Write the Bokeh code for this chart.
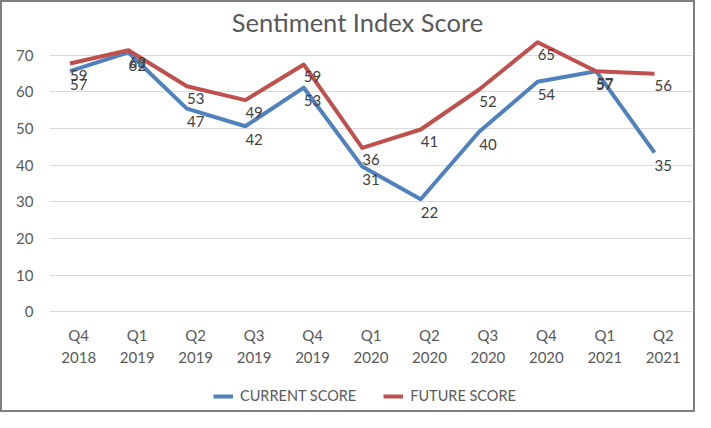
from bokeh.plotting import figure
from bokeh.models import (FactorRange, Range1d, FixedTicker, Legend, LegendItem,
                          ColumnDataSource, Label)
from bokeh.transform import dodge
from bokeh.core.properties import value
from bokeh.embed import file_html
from bokeh.resources import INLINE

title_text = "Sentiment Index Score"
quarters = ["Q4\n2018", "Q1\n2019", "Q2\n2019", "Q3\n2019", "Q4\n2019", "Q1\n2020",
            "Q2\n2020", "Q3\n2020", "Q4\n2020", "Q1\n2021", "Q2\n2021"]
# line positions as drawn in the picture
current_score = [65.6, 70.7, 55.4, 50.6, 61.1, 39.6, 30.7, 49.1, 62.7, 65.6, 43.4]
future_score = [67.7, 71.3, 61.5, 57.7, 67.4, 44.7, 49.7, 60.6, 73.5, 65.6, 64.9]
# data labels as printed in the picture
current_labels = [57, 62, 47, 42, 53, 31, 22, 40, 54, 57, 35]
future_labels = [59, 63, 53, 49, 59, 36, 41, 52, 65, 57, 56]
y_ticks = [0, 10, 20, 30, 40, 50, 60, 70]

FONT = "Lato"
TXT = "#595959"

src = ColumnDataSource(dict(
    q=quarters, cur=current_score, fut=future_score,
    zero=[0] * len(quarters),
    cur_lab=[str(v) for v in current_labels],
    fut_lab=[str(v) for v in future_labels],
))

p = figure(width=695, height=412,
           x_range=FactorRange(*quarters, range_padding=0),
           y_range=Range1d(-27.98, 84.32),
           output_backend="svg", toolbar_location=None,
           min_border_left=47, min_border_right=5,
           min_border_top=0, min_border_bottom=0)

p.xaxis.visible = False
ax = p.yaxis[0]
ax.axis_line_color = None
ax.major_tick_line_color = None
ax.minor_tick_line_color = None
ax.major_label_text_font = FONT
ax.major_label_text_font_size = "15px"
ax.major_label_text_color = TXT
ax.major_label_standoff = 10
ax.ticker = FixedTicker(ticks=y_ticks)

p.xgrid.grid_line_color = None
p.ygrid.grid_line_color = "#D9D9D9"
p.ygrid.grid_line_width = 1
p.outline_line_color = None

# chart title
p.add_layout(Label(x=5.268, y=79.0, text=title_text, text_align="center",
                   text_baseline="middle", text_font=FONT, text_font_size="25.5px",
                   text_color=TXT))

# category labels under the plot
p.text(x="q", y="zero", text="q", source=src, text_align="center",
       text_baseline="middle", y_offset=34, text_line_height=1.2,
       text_font=value(FONT), text_font_size="15px", text_color=TXT)

r_cur = p.line(x=dodge("q", -0.15, range=p.x_range), y="cur", source=src,
               line_color="#4F81BD", line_width=4, line_join="round")
r_fut = p.line(x=dodge("q", -0.15, range=p.x_range), y="fut", source=src,
               line_color="#C0504D", line_width=4, line_join="round")

p.text(x="q", y="cur", text="cur_lab", source=src, text_align="center",
       text_baseline="middle", y_offset=13, text_font=value(FONT),
       text_font_size="15px", text_color="#404040")
p.text(x="q", y="fut", text="fut_lab", source=src, text_align="center",
       text_baseline="middle", y_offset=12, text_font=value(FONT),
       text_font_size="15px", text_color="#404040")

legend = Legend(items=[LegendItem(label="CURRENT SCORE", renderers=[r_cur]),
                       LegendItem(label="FUTURE SCORE", renderers=[r_fut])],
                orientation="horizontal", location=(164, 10),
                glyph_width=20, glyph_height=16, label_standoff=7, spacing=27,
                padding=2, margin=0,
                border_line_color=None, background_fill_alpha=0,
                label_text_font=FONT, label_text_font_size="14.5px",
                label_text_color=TXT)
p.add_layout(legend)

p.styles = {"border": "2px solid #7F7F7F"}

open("out.html", "w").write(file_html(p, INLINE))
